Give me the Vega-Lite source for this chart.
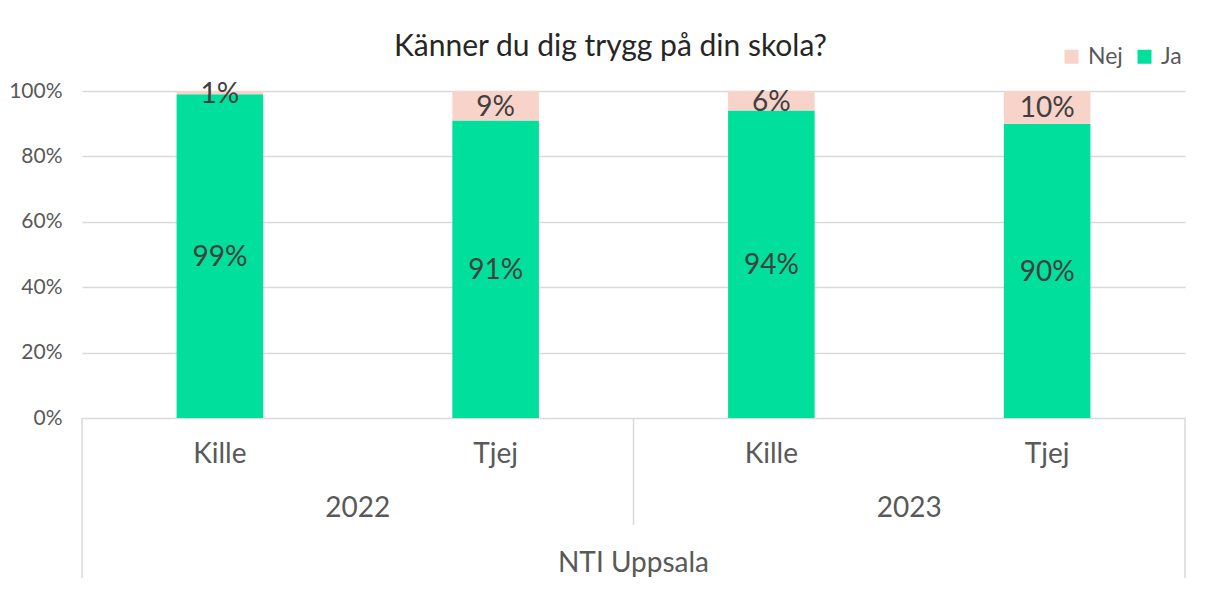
{
  "$schema": "https://vega.github.io/schema/vega-lite/v6.json",
  "width": 1103,
  "height": 327,
  "autosize": {"type": "none"},
  "padding": {"left": 82, "top": 91, "right": 29, "bottom": 183},
  "background": "white",
  "config": {"font": "Lato", "view": {"stroke": null}},
  "title": {"text": "Känner du dig trygg på din skola?", "fontSize": 30, "fontWeight": "normal", "color": "#262626", "anchor": "middle", "dx": -23, "baseline": "alphabetic", "offset": 0, "dy": 41},
  "data": {"values": [
    {"ar": "2022", "kon": "Kille", "key": "2022|Kille", "svar": "Ja", "andel": 0.99, "skola": "NTI Uppsala"},
    {"ar": "2022", "kon": "Kille", "key": "2022|Kille", "svar": "Nej", "andel": 0.01, "skola": "NTI Uppsala"},
    {"ar": "2022", "kon": "Tjej", "key": "2022|Tjej", "svar": "Ja", "andel": 0.91, "skola": "NTI Uppsala"},
    {"ar": "2022", "kon": "Tjej", "key": "2022|Tjej", "svar": "Nej", "andel": 0.09, "skola": "NTI Uppsala"},
    {"ar": "2023", "kon": "Kille", "key": "2023|Kille", "svar": "Ja", "andel": 0.94, "skola": "NTI Uppsala"},
    {"ar": "2023", "kon": "Kille", "key": "2023|Kille", "svar": "Nej", "andel": 0.06, "skola": "NTI Uppsala"},
    {"ar": "2023", "kon": "Tjej", "key": "2023|Tjej", "svar": "Ja", "andel": 0.90, "skola": "NTI Uppsala"},
    {"ar": "2023", "kon": "Tjej", "key": "2023|Tjej", "svar": "Nej", "andel": 0.10, "skola": "NTI Uppsala"}
  ]},
  "transform": [
    {"stack": "andel", "groupby": ["key"], "sort": [{"field": "svar", "order": "ascending"}], "as": ["v0", "v1"]},
    {"calculate": "(datum.v0 + datum.v1) / 2", "as": "mid"}
  ],
  "layer": [
    {
      "mark": {"type": "bar"},
      "encoding": {
        "x": {"field": "key", "type": "nominal", "scale": {"domain": ["2022|Kille", "2022|Tjej", "2023|Kille", "2023|Tjej"], "paddingInner": 0.686, "paddingOuter": 0.343}, "axis": null},
        "y": {"field": "v0", "type": "quantitative", "scale": {"domain": [0, 1], "nice": false}, "axis": {"values": [0, 0.2, 0.4, 0.6, 0.8, 1], "format": ".0%", "domain": false, "ticks": false, "labelFontSize": 21, "labelColor": "#595959", "labelPadding": 20, "gridColor": "#d9d9d9", "gridWidth": 1.5, "title": null}},
        "y2": {"field": "v1"},
        "color": {"field": "svar", "type": "nominal", "scale": {"domain": ["Nej", "Ja"], "range": ["#F8D3C9", "#00DF9B"]}, "legend": {"orient": "none", "legendX": 978, "legendY": -46, "direction": "horizontal", "title": null, "symbolType": "square", "symbolSize": 196, "symbolStrokeWidth": 0, "labelFontSize": 23, "labelColor": "#595959", "columnSpacing": 14, "labelOffset": 5}}
      }
    },
    {
      "mark": {"type": "text", "fontSize": 28, "color": "#404040", "baseline": "middle", "dy": 2},
      "encoding": {
        "x": {"field": "key", "type": "nominal"},
        "y": {"field": "mid", "type": "quantitative"},
        "text": {"field": "andel", "type": "quantitative", "format": ".0%"}
      }
    },
    {
      "transform": [{"filter": "datum.svar == 'Ja'"}],
      "mark": {"type": "text", "fontSize": 28, "color": "#595959", "baseline": "alphabetic"},
      "encoding": {
        "x": {"field": "key", "type": "nominal"},
        "y": {"datum": -0.1376},
        "text": {"field": "kon"}
      }
    },
    {
      "transform": [{"filter": "datum.svar == 'Ja' && datum.kon == 'Tjej'"}],
      "mark": {"type": "text", "fontSize": 28, "color": "#595959", "baseline": "alphabetic"},
      "encoding": {
        "x": {"field": "key", "type": "nominal", "bandPosition": -1.0924},
        "y": {"datum": -0.3028},
        "text": {"field": "ar"}
      }
    },
    {
      "transform": [{"filter": "datum.svar == 'Ja' && datum.key == '2023|Kille'"}],
      "mark": {"type": "text", "fontSize": 28, "color": "#595959", "baseline": "alphabetic"},
      "encoding": {
        "x": {"field": "key", "type": "nominal", "bandPosition": -1.0924},
        "y": {"datum": -0.471},
        "text": {"field": "skola"}
      }
    },
    {
      "transform": [{"filter": "datum.svar == 'Ja' && datum.key == '2022|Kille'"}],
      "mark": {"type": "rule", "color": "#d9d9d9", "strokeWidth": 1.5},
      "encoding": {
        "x": {"field": "key", "type": "nominal", "bandPosition": -1.0924},
        "y": {"datum": 0},
        "y2": {"datum": -0.489}
      }
    },
    {
      "transform": [{"filter": "datum.svar == 'Ja' && datum.key == '2023|Kille'"}],
      "mark": {"type": "rule", "color": "#d9d9d9", "strokeWidth": 1.5},
      "encoding": {
        "x": {"field": "key", "type": "nominal", "bandPosition": -1.0924},
        "y": {"datum": 0},
        "y2": {"datum": -0.327}
      }
    },
    {
      "transform": [{"filter": "datum.svar == 'Ja' && datum.key == '2023|Tjej'"}],
      "mark": {"type": "rule", "color": "#d9d9d9", "strokeWidth": 1.5},
      "encoding": {
        "x": {"field": "key", "type": "nominal", "bandPosition": 2.0924},
        "y": {"datum": 0},
        "y2": {"datum": -0.489}
      }
    }
  ]
}
